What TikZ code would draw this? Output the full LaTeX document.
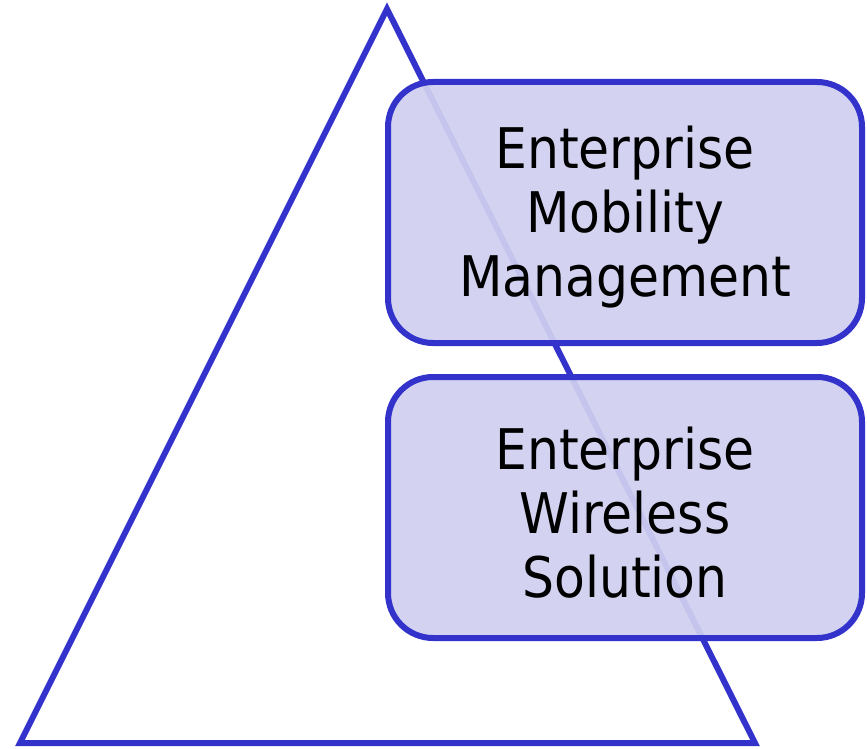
\documentclass[tikz,border=0pt]{standalone}
\usepackage{fontspec}
\setmainfont{DejaVu Sans}[FakeStretch=0.9]
\definecolor{edgeblue}{RGB}{51,51,204}
\definecolor{boxfill}{RGB}{208,208,240}
\begin{document}
\begin{tikzpicture}[x=1pt,y=-1pt,
  layerbox/.style={draw=edgeblue, line width=6pt, fill=boxfill, fill opacity=0.93, text opacity=1,
    rounded corners=45pt, minimum width=474pt, minimum height=261pt, inner sep=0pt},
  layertext/.style={align=center, inner sep=0pt, font=\fontsize{56}{64}\selectfont}]
\useasboundingbox (0,0) rectangle (867,749);
\draw[edgeblue, line width=6pt] (387,9) -- (755,743) -- (20,743) -- cycle;
\node[layerbox] (emm) at (625,212.5) {};
\node[layerbox] (ews) at (625,507.5) {};
\node[layertext] (emmtext) at ([yshift=-5pt]emm.center) {Enterprise\\Mobility\\Management};
\node[layertext] (ewstext) at ([yshift=-5pt]ews.center) {Enterprise\\Wireless\\Solution};
\end{tikzpicture}
\end{document}
